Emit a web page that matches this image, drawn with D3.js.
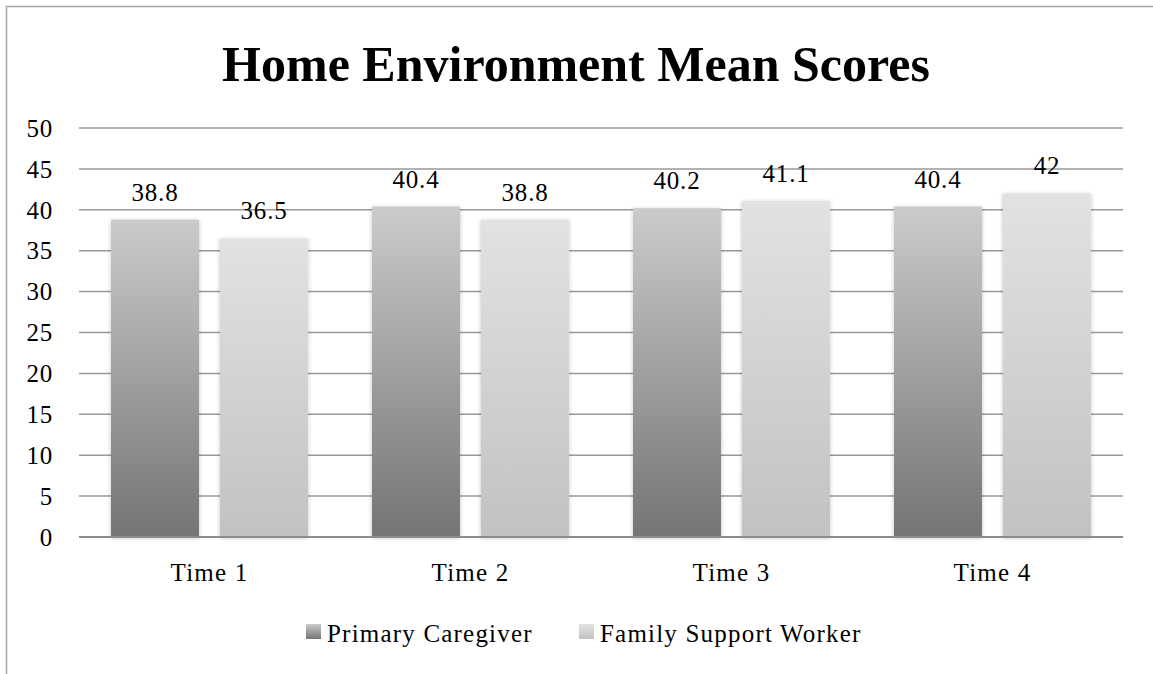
<!DOCTYPE html>
<html><head><meta charset="utf-8">
<script src="https://cdn.jsdelivr.net/npm/d3@7"></script>
<style>body{margin:0;background:#fff}svg{display:block}text{font-family:"Liberation Serif","Times New Roman",serif;fill:#000}</style>
</head><body>
<script>
const categories = ["Time 1","Time 2","Time 3","Time 4"];
const seriesNames = ["Primary Caregiver","Family Support Worker"];
const primaryCaregiver = [38.8, 40.4, 40.2, 40.4];
const familySupportWorker = [36.5, 38.8, 41.1, 42];
const yTicks = [0,5,10,15,20,25,30,35,40,45,50];
const title = "Home Environment Mean Scores";

const W = 1153, H = 674;
const svg = d3.select("body").append("svg").attr("width", W).attr("height", H);
const defs = svg.append("defs");
const grads = [["g0","#cbcbcb","#747474"],["g1","#e2e2e2","#c2c2c2"]];
grads.forEach(([id,top,bot])=>{
  const g = defs.append("linearGradient").attr("id",id).attr("x1",0).attr("y1",0).attr("x2",0).attr("y2",1);
  g.append("stop").attr("offset","0%").attr("stop-color",top);
  g.append("stop").attr("offset","100%").attr("stop-color",bot);
});
const f = defs.append("filter").attr("id","sh").attr("x","-10%").attr("y","-10%").attr("width","120%").attr("height","120%");
f.append("feGaussianBlur").attr("in","SourceAlpha").attr("stdDeviation",2).attr("result","b");
f.append("feOffset").attr("in","b").attr("dx",0).attr("dy",1).attr("result","o");
f.append("feComponentTransfer").attr("in","o").attr("result","t").append("feFuncA").attr("type","linear").attr("slope",0.25);
const m = f.append("feMerge"); m.append("feMergeNode").attr("in","t"); m.append("feMergeNode").attr("in","SourceGraphic");

// frame
svg.append("rect").attr("x",6.5).attr("y",6.5).attr("width",W+20).attr("height",H+20)
  .attr("fill","none").attr("stroke","#a6a6a6").attr("stroke-width",1.5);

svg.append("text").attr("x",576).attr("y",81).attr("text-anchor","middle")
  .style("font-size","50px").style("font-weight","bold").text(title);

const x0 = d3.scaleBand().domain(categories).range([79,1123]).paddingInner(0.245).paddingOuter(0.1225);
const x1 = d3.scaleBand().domain(seriesNames).range([0, x0.bandwidth()]).paddingInner(0.193);
const y = d3.scaleLinear().domain([0,50]).range([537,128]);

// grid
const yAxis = d3.axisLeft(y).tickValues(yTicks).tickSize(0).tickPadding(0);
const gy = svg.append("g");
gy.selectAll("line.grid").data(yTicks).join("line").attr("class","grid")
  .attr("x1",79).attr("x2",1123).attr("y1",d=>y(d)).attr("y2",d=>y(d))
  .attr("stroke","#989898").attr("stroke-width",1.5);
const ax = svg.append("g").attr("transform","translate(53,0)").call(yAxis);
ax.select(".domain").remove();
ax.attr("font-family",null);
ax.selectAll("text").style("font-size","25px").style("letter-spacing","0.8px").attr("dy","0.33em").attr("fill","#000");

const data = categories.map((c,i)=>({cat:c, vals:[primaryCaregiver[i], familySupportWorker[i]]}));
const groups = svg.append("g").selectAll("g").data(data).join("g")
  .attr("transform",d=>`translate(${x0(d.cat)},0)`);
groups.selectAll("rect").data(d=>d.vals.map((v,j)=>({v,s:seriesNames[j],j}))).join("rect")
  .attr("x",d=>x1(d.s)).attr("width",x1.bandwidth())
  .attr("y",d=>y(d.v)).attr("height",d=>y(0)-y(d.v))
  .attr("fill",d=>`url(#g${d.j})`).attr("filter","url(#sh)");
groups.selectAll("text").data(d=>d.vals.map((v,j)=>({v,s:seriesNames[j]}))).join("text")
  .attr("x",d=>x1(d.s)+x1.bandwidth()/2).attr("y",d=>y(d.v)-19)
  .attr("text-anchor","middle").style("font-size","25px").style("letter-spacing","0.8px").text(d=>d.v);

// x axis
const xAxis = d3.axisBottom(x0).tickSize(0).tickPadding(0);
const gx = svg.append("g").attr("transform","translate(0,537)").call(xAxis);
gx.attr("font-family",null);
gx.select(".domain").attr("d","M79,0H1123").attr("stroke","#8c8c8c").attr("stroke-width",2);
gx.selectAll("text").style("font-size","25px").style("letter-spacing","1.2px").attr("dy",0).attr("y",44).attr("fill","#000");

// legend
const legX = [306, 579];
const leg = svg.append("g").selectAll("g").data(seriesNames).join("g")
  .attr("transform",(d,i)=>`translate(${legX[i]},624)`);
leg.append("rect").attr("width",15).attr("height",15).attr("fill",(d,i)=>`url(#g${i})`);
leg.append("text").attr("x",21).attr("y",18).style("font-size","25px").style("letter-spacing","1.2px").text(d=>d);
</script>
</body></html>
